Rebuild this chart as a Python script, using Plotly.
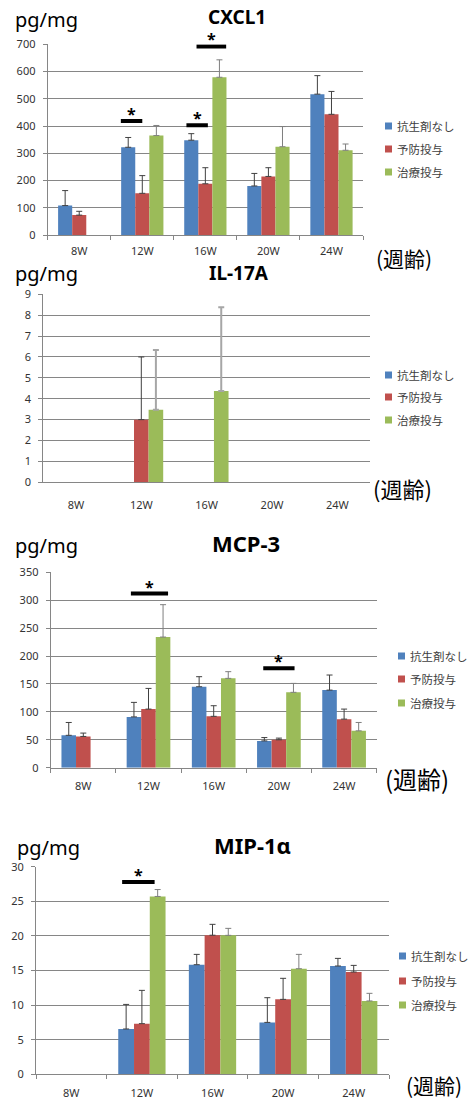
import plotly.graph_objects as go

W, H = 471, 1101

categories = ["8W", "12W", "16W", "20W", "24W"]
series_names = ["抗生剤なし", "予防投与", "治療投与"]
series_colors = ["#4F81BD", "#C0504D", "#9BBB59"]
err_colors = ["#404040", "#404040", "#7f7f7f"]

# CXCL1
cxcl1_none = [108, 322, 348, 180, 517]
cxcl1_none_err = [55, 36, 24, 46, 68]
cxcl1_prev = [73, 153, 188, 215, 443]
cxcl1_prev_err = [14, 65, 59, 32, 84]
cxcl1_treat = [None, 365, 579, 324, 311]
cxcl1_treat_err = [0, 37, 64, 74, 23]

# IL-17A
il17a_none = [None, None, None, None, None]
il17a_none_err = [0, 0, 0, 0, 0]
il17a_prev = [None, 3.0, None, None, None]
il17a_prev_err = [0, 3.0, 0, 0, 0]
il17a_treat = [None, 3.47, 4.37, None, None]
il17a_treat_err = [0, 2.86, 4.01, 0, 0]

# MCP-3
mcp3_none = [58, 91, 145, 48, 139]
mcp3_none_err = [23, 26, 18, 6, 27]
mcp3_prev = [56, 105, 92, 50, 87]
mcp3_prev_err = [6, 37, 19, 3, 18]
mcp3_treat = [None, 234, 160, 135, 66]
mcp3_treat_err = [0, 58, 12, 16, 15]

# MIP-1α
mip1a_none = [None, 6.55, 15.84, 7.5, 15.65]
mip1a_none_err = [0, 3.55, 1.49, 3.57, 1.1]
mip1a_prev = [None, 7.32, 20.1, 10.83, 14.78]
mip1a_prev_err = [0, 4.81, 1.57, 3.04, 0.96]
mip1a_treat = [None, 25.7, 20.08, 15.26, 10.6]
mip1a_treat_err = [0, 1.0, 1.01, 2.07, 1.1]

titles = ["CXCL1", "IL-17A", "MCP-3", "MIP-1α"]
y_ranges = [[0, 700], [0, 9], [0, 350], [0, 30]]
y_dticks = [100, 1, 50, 5]

# significance bars: (category index, start offset, end offset, y value)
sig_cxcl1 = [(1, -0.34, 0.0, 418), (2, -0.30, 0.04, 403), (2, -0.14, 0.33, 692)]
sig_il17a = []
sig_mcp3 = [(1, -0.27, 0.30, 312), (3, -0.24, 0.24, 178)]
sig_mip1a = [(1, -0.28, 0.18, 27.8)]

panels = [
    ([cxcl1_none, cxcl1_prev, cxcl1_treat], [cxcl1_none_err, cxcl1_prev_err, cxcl1_treat_err], sig_cxcl1),
    ([il17a_none, il17a_prev, il17a_treat], [il17a_none_err, il17a_prev_err, il17a_treat_err], sig_il17a),
    ([mcp3_none, mcp3_prev, mcp3_treat], [mcp3_none_err, mcp3_prev_err, mcp3_treat_err], sig_mcp3),
    ([mip1a_none, mip1a_prev, mip1a_treat], [mip1a_none_err, mip1a_prev_err, mip1a_treat_err], sig_mip1a),
]

# layout geometry in pixels
plot_boxes = [  # x0, x1, ytop, ybottom
    (47.7, 363.0, 44.3, 235.0),
    (43.3, 370.0, 294.3, 482.3),
    (50.7, 376.7, 572.3, 767.7),
    (36.0, 389.0, 866.7, 1074.3),
]
title_pos = [(237, 17), (239, 273), (246, 543), (252, 845)]
title_size = [19, 19, 22, 22]
unit_pos = [(13, 19), (13, 273), (13, 545), (15, 847)]
age_pos = [(404, 258), (402, 488), (417, 778), (434, 1085)]
age_size = [21, 22, 24, 21]
legend_marker_x = [385, 385, 398, 399]
legend_item_y = [(126, 149, 172), (375, 397, 420), (656, 679, 703), (956, 981, 1005)]
xlabel_standoff = [6, 12, 8, 8]

def px_x(v):
    return v / W

def px_y(v):
    return 1 - v / H

FONT = "Noto Sans, Liberation Sans, sans-serif"
CJK = "Noto Sans CJK JP, sans-serif"

fig = go.Figure()
annotations = []
shapes = []
layout_extra = {}

for p, (vals, errs, sigs) in enumerate(panels):
    k = "" if p == 0 else str(p + 1)
    xa, ya = "x" + k, "y" + k
    for s in range(3):
        ec = err_colors[s]
        ethick = 1
        if p == 1 and s == 2:
            ec, ethick = "#a6a6a6", 2
        fig.add_trace(go.Bar(
            x=categories, y=vals[s], name=series_names[s],
            marker=dict(color=series_colors[s], line=dict(width=0)),
            error_y=dict(type="data", symmetric=False, array=errs[s],
                         arrayminus=[0] * 5, color=ec, thickness=ethick, width=3),
            xaxis=xa, yaxis=ya, showlegend=False,
        ))
    x0, x1, yt, yb = plot_boxes[p]
    layout_extra["xaxis" + k] = dict(
        domain=[px_x(x0), px_x(x1)], anchor=ya, type="category",
        categoryorder="array", categoryarray=categories, range=[-0.5, 4.5],
        showline=True, linecolor="#868686", linewidth=1,
        ticks="outside" if p != 1 else "", tickson="boundaries", ticklen=4,
        tickcolor="#868686", showgrid=False, ticklabelstandoff=xlabel_standoff[p],
        tickfont=dict(family=FONT, size=11, color="#333333"),
        fixedrange=True,
    )
    layout_extra["yaxis" + k] = dict(
        domain=[px_y(yb), px_y(yt)], anchor=xa, range=y_ranges[p], dtick=y_dticks[p],
        showline=True, linecolor="#868686", linewidth=1,
        ticks="outside", ticklen=4, tickcolor="#868686", ticklabelstandoff=5,
        showgrid=True, gridcolor="#868686", gridwidth=1, zeroline=False,
        tickfont=dict(family=FONT, size=11, color="#333333"),
        fixedrange=True,
    )
    # legend (markers + labels)
    mx = legend_marker_x[p]
    for s in range(3):
        iy = legend_item_y[p][s]
        shapes.append(dict(type="rect", xref="paper", yref="paper",
                           x0=px_x(mx), x1=px_x(mx + 7), y0=px_y(iy + 3.5), y1=px_y(iy - 3.5),
                           fillcolor=series_colors[s], line=dict(width=0)))
        annotations.append(dict(text=series_names[s], x=px_x(mx + 10), y=px_y(iy),
                                xref="paper", yref="paper", showarrow=False,
                                xanchor="left", yanchor="middle",
                                font=dict(family=CJK, size=11.5, color="#404040")))
    tx, ty = title_pos[p]
    annotations.append(dict(text="<b>" + titles[p] + "</b>", x=px_x(tx), y=px_y(ty),
                            xref="paper", yref="paper", showarrow=False,
                            xanchor="center", yanchor="middle", height=20,
                            font=dict(family=FONT, size=title_size[p], color="black")))
    ux, uy = unit_pos[p]
    annotations.append(dict(text="pg/mg", x=px_x(ux), y=px_y(uy),
                            xref="paper", yref="paper", showarrow=False,
                            xanchor="left", yanchor="middle",
                            font=dict(family=FONT, size=20, color="black")))
    ax_, ay_ = age_pos[p]
    annotations.append(dict(text="(週齢)", x=px_x(ax_), y=px_y(ay_),
                            xref="paper", yref="paper", showarrow=False,
                            xanchor="center", yanchor="middle",
                            font=dict(family=CJK, size=age_size[p], color="black")))
    for (ci, o0, o1, yv) in sigs:
        shapes.append(dict(type="line", xref=xa, yref=ya,
                           x0=ci + o0, x1=ci + o1, y0=yv, y1=yv,
                           line=dict(color="black", width=4)))
        annotations.append(dict(text="<b>*</b>", x=ci + (o0 + o1) / 2, y=yv,
                                xref=xa, yref=ya, showarrow=False,
                                xanchor="center", yanchor="middle", yshift=7,
                                font=dict(family=FONT, size=16, color="black")))

fig.update_layout(
    width=W, height=H,
    margin=dict(l=0, r=0, t=0, b=0, autoexpand=False),
    paper_bgcolor="white", plot_bgcolor="white",
    barmode="group", bargap=0.33, bargroupgap=0,
    annotations=annotations, shapes=shapes,
    showlegend=False,
    **layout_extra,
)

fig.write_html("out.html", config={"displayModeBar": False},
               post_script="document.body.style.margin='0';document.body.style.overflow='hidden';")
